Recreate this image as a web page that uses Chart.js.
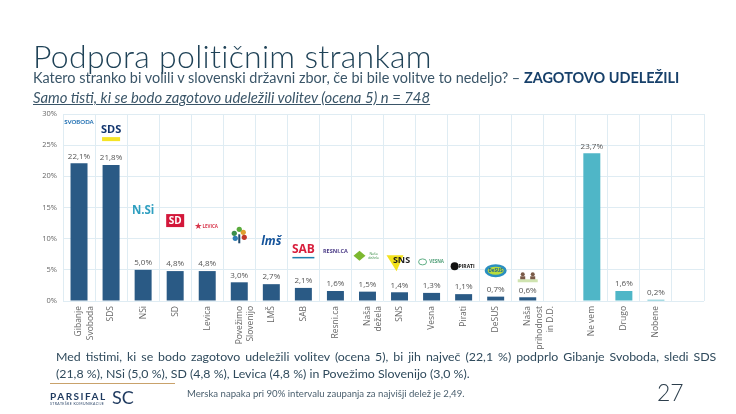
<!DOCTYPE html>
<html>
<head>
<meta charset="utf-8">
<script src="https://cdn.jsdelivr.net/npm/chart.js@4"></script>
<style>
  body { margin: 0; background: #fff; width: 736px; height: 414px; overflow: hidden; font-family: Lato, sans-serif; color: #2c4a5e; }
  #wrap { position: absolute; left: 0; top: 0; width: 736px; height: 414px; }
  .t { position: absolute; white-space: nowrap; }
  #title { left: 33px; top: 36px; font-size: 32px; font-weight: 300; color: #1f4257; letter-spacing: 0.3px; }
  #sub { left: 33px; top: 69px; font-size: 14.45px; color: #3a5568; }
  #sub b { color: #17406a; }
  #note { left: 33px; top: 88px; font-size: 14.85px; font-style: italic; text-decoration: underline; color: #3a5568; }
  #body1 { left: 56px; top: 349px; font-size: 12.35px; word-spacing: 1.8px; color: #2f4a5c; }
  #body2 { left: 56px; top: 366px; font-size: 12.35px; color: #2f4a5c; }
  #rule { position: absolute; left: 50px; top: 383px; width: 125px; height: 1px; background: #c9a26b; }
  #brand { left: 50px; top: 390px; font-size: 10px; font-weight: 700; letter-spacing: 1.5px; color: #1f3a5f; }
  #brand2 { left: 112px; top: 386px; font-size: 18px; color: #1f3a5f; }
  #brand3 { left: 50px; top: 402px; font-size: 3.5px; letter-spacing: 0.4px; color: #1f3a5f; }
  #err { left: 187px; top: 388px; font-size: 9.6px; color: #4a5f6e; }
  #page { left: 657px; top: 378px; font-size: 23px; color: #2c3e4c; font-weight: 300; }
</style>
</head>
<body>
<div id="wrap"><canvas id="myChart" width="736" height="414"></canvas></div>
<div class="t" id="title">Podpora političnim strankam</div>
<div class="t" id="sub">Katero stranko bi volili v slovenski državni zbor, če bi bile volitve to nedeljo? – <b>ZAGOTOVO UDELEŽILI</b></div>
<div class="t" id="note">Samo tisti, ki se bodo zagotovo udeležili volitev (ocena 5) n = 748</div>
<div class="t" id="body1">Med tistimi, ki se bodo zagotovo udeležili volitev (ocena 5), bi jih največ (22,1 %) podprlo Gibanje Svoboda, sledi SDS</div>
<div class="t" id="body2">(21,8 %), NSi (5,0 %), SD (4,8 %), Levica (4,8 %) in Povežimo Slovenijo (3,0 %).</div>
<div id="rule"></div>
<div class="t" id="brand">PARSIFAL</div>
<div class="t" id="brand2">SC</div>
<div class="t" id="brand3">STRATEŠKE KOMUNIKACIJE</div>
<div class="t" id="err">Merska napaka pri 90% intervalu zaupanja za najvišji delež je 2,49.</div>
<div class="t" id="page">27</div>
<script>
let categories = [["Gibanje", "Svoboda"], "SDS", "NSi", "SD", "Levica", ["Povežimo", "Slovenijo"], "LMŠ", "SAB", "Resni.ca", ["Naša", "dežela"], "SNS", "Vesna", "Pirati", "DeSUS", ["Naša", "prihodnost", "in D.D."], "", "Ne vem", "Drugo", "Nobene", " "];
let values = [22.1, 21.8, 5.0, 4.8, 4.8, 3.0, 2.7, 2.1, 1.6, 1.5, 1.4, 1.3, 1.1, 0.7, 0.6, null, 23.7, 1.6, 0.2, null];
let valueLabels = ["22,1%", "21,8%", "5,0%", "4,8%", "4,8%", "3,0%", "2,7%", "2,1%", "1,6%", "1,5%", "1,4%", "1,3%", "1,1%", "0,7%", "0,6%", "", "23,7%", "1,6%", "0,2%", ""];
let yTicks = [0, 5, 10, 15, 20, 25, 30];
let logos = ["SVOBODA", "SDS", "N.Si", "SD", "LEVICA", "", "lmš", "SAB", "RESNI.CA", "Naša dežela", "SNS", "VESNA", "PIRATI", "DeSUS", ""];

const darkBar = "#2a5a85";
const lightBar = "#4fb6c7";
const gridColor = "#dfecf3";

// how far above the bar top each logo sits
const logoLift = [41, 33, 59, 50, 44, 47, 43, 37, 40, 36, 31, 31, 28, 26, 21];

function drawLogo(ctx, i, x, y) {
  const text = logos[i];
  ctx.textAlign = "center";
  ctx.textBaseline = "middle";
  if (i == 0) {
    ctx.font = "bold 6px Lato";
    ctx.fillStyle = "#1f6fb2";
    ctx.fillText(text, x, y);
  } else if (i == 1) {
    ctx.font = "bold 11px 'Open Sans'";
    ctx.fillStyle = "#12356e";
    ctx.fillText(text, x, y - 2);
    ctx.fillStyle = "#f5e425";
    ctx.fillRect(x - 9, y + 5, 18, 4);
  } else if (i == 2) {
    ctx.font = "bold 11.5px 'Open Sans'";
    ctx.fillStyle = "#2f9fc0";
    ctx.fillText(text, x, y);
  } else if (i == 3) {
    ctx.fillStyle = "#d3173a";
    ctx.fillRect(x - 9, y - 7, 18, 13);
    ctx.font = "bold 10px 'Open Sans'";
    ctx.fillStyle = "#fff";
    ctx.fillText(text, x, y);
  } else if (i == 4) {
    ctx.font = "9px 'DejaVu Sans'";
    ctx.fillStyle = "#d8344a";
    ctx.fillText("★", x - 9, y);
    ctx.font = "bold 4.5px 'Open Sans'";
    ctx.fillText(text, x + 3, y);
  } else if (i == 5) {
    // small tree: three coloured leaves on a dark trunk
    ctx.fillStyle = "#1f4a6e";
    ctx.fillRect(x - 1, y - 1, 2, 9);
    [["#3b8f4a", -5, -2], ["#e0a030", 4, -3], ["#2f7fb5", -4, 3], ["#c0392b", 5, 2], ["#5aab3c", 0, -6]].forEach((leaf) => {
      ctx.fillStyle = leaf[0];
      ctx.beginPath();
      ctx.arc(x + leaf[1], y + leaf[2], 2.6, 0, Math.PI * 2);
      ctx.fill();
    });
  } else if (i == 6) {
    ctx.font = "italic bold 12px 'Open Sans'";
    ctx.fillStyle = "#14539a";
    ctx.fillText(text, x, y);
  } else if (i == 7) {
    ctx.font = "bold 12px 'Open Sans'";
    ctx.fillStyle = "#d81e3c";
    ctx.fillText(text, x, y - 1);
    ctx.fillStyle = "#1d7fb0";
    ctx.fillRect(x - 11, y + 6, 22, 1.5);
  } else if (i == 8) {
    ctx.font = "bold 5.5px 'Open Sans'";
    ctx.fillStyle = "#4a3a86";
    ctx.fillText(text, x, y);
  } else if (i == 9) {
    ctx.fillStyle = "#7cb82f";
    ctx.beginPath();
    ctx.moveTo(x - 14, y);
    ctx.lineTo(x - 8, y - 5);
    ctx.lineTo(x - 2, y);
    ctx.lineTo(x - 8, y + 5);
    ctx.fill();
    ctx.font = "3.5px 'Open Sans'";
    ctx.fillStyle = "#3e8f4a";
    ctx.fillText("Naša", x + 6, y - 2);
    ctx.fillText("dežela", x + 6, y + 2);
  } else if (i == 10) {
    ctx.fillStyle = "#f3e21c";
    ctx.beginPath();
    ctx.moveTo(x - 13, y - 6);
    ctx.lineTo(x + 4, y - 6);
    ctx.lineTo(x - 3, y + 10);
    ctx.fill();
    ctx.font = "bold 9px 'Open Sans'";
    ctx.fillStyle = "#1a1a1a";
    ctx.fillText(text, x + 2, y - 1);
  } else if (i == 11) {
    ctx.strokeStyle = "#5fae85";
    ctx.lineWidth = 1;
    ctx.beginPath();
    ctx.ellipse(x - 9, y, 4, 3, 0, 0, Math.PI * 2);
    ctx.stroke();
    ctx.font = "bold 4.5px 'Open Sans'";
    ctx.fillStyle = "#4f9f78";
    ctx.fillText(text, x + 5, y);
  } else if (i == 12) {
    ctx.fillStyle = "#111";
    ctx.beginPath();
    ctx.arc(x - 9, y, 4, 0, Math.PI * 2);
    ctx.fill();
    ctx.font = "bold 5px 'Open Sans'";
    ctx.fillText(text, x + 3, y);
  } else if (i == 13) {
    ctx.fillStyle = "#2a8fc0";
    ctx.beginPath();
    ctx.ellipse(x, y, 11, 6.5, 0, 0, Math.PI * 2);
    ctx.fill();
    ctx.fillStyle = "#b7dc3c";
    ctx.beginPath();
    ctx.ellipse(x, y, 8, 4, 0, 0, Math.PI * 2);
    ctx.fill();
    ctx.font = "bold 4.5px 'Open Sans'";
    ctx.fillStyle = "#1c5f8e";
    ctx.fillText(text, x, y);
  } else if (i == 14) {
    // two small portraits over a green strip
    ctx.fillStyle = "#cfe3b0";
    ctx.fillRect(x - 10, y + 3, 20, 3);
    [-5, 5].forEach((dx) => {
      ctx.fillStyle = "#7a5a48";
      ctx.beginPath();
      ctx.arc(x + dx, y - 2, 2, 0, Math.PI * 2);
      ctx.fill();
      ctx.fillRect(x + dx - 2.5, y, 5, 3);
    });
  }
}

const labelsAndLogos = {
  id: "labelsAndLogos",
  afterDatasetsDraw(chart) {
    const ctx = chart.ctx;
    const meta = chart.getDatasetMeta(0);
    ctx.save();
    values.forEach((v, i) => {
      if (v === null) return;
      const bar = meta.data[i];
      ctx.font = "8px 'Open Sans'";
      ctx.fillStyle = "#555";
      ctx.textAlign = "center";
      ctx.textBaseline = "bottom";
      ctx.fillText(valueLabels[i], bar.x, bar.y - 3);
      if (i < logos.length) {
        ctx.save();
        drawLogo(ctx, i, bar.x, bar.y - logoLift[i]);
        ctx.restore();
      }
    });
    ctx.restore();
  },
};

window.onload = () => {
  new Chart(document.getElementById("myChart").getContext("2d"), {
    type: "bar",
    data: {
      labels: categories,
      datasets: [{
        data: values,
        backgroundColor: values.map((v, i) => (i < 15 ? darkBar : lightBar)),
        categoryPercentage: 1,
        barPercentage: 0.53,
      }],
    },
    options: {
      responsive: false,
      animation: false,
      layout: { padding: { left: 0, top: 114, right: 32, bottom: 0 } },
      plugins: { legend: { display: false }, tooltip: { enabled: false } },
      scales: {
        y: {
          min: 0,
          max: 30,
          afterBuildTicks: (axis) => { axis.ticks = yTicks.map((v) => ({ value: v })); },
          afterFit: (axis) => { axis.width = 63; },
          grid: { color: gridColor, lineWidth: 1, drawTicks: false },
          border: { display: false },
          ticks: { font: { family: "Open Sans", size: 7.5 }, color: "#666", padding: 6, callback: (v) => v + "%" },
        },
        x: {
          afterFit: (axis) => { axis.height = 113; },
          grid: { color: gridColor, lineWidth: 1, drawTicks: false, offset: true },
          border: { display: false },
          ticks: { font: { family: "Open Sans", size: 8.5, lineHeight: 1.35 }, color: "#666", padding: 5, minRotation: 90, maxRotation: 90, autoSkip: false },
        },
      },
    },
    plugins: [labelsAndLogos],
  });
};
</script>
</body>
</html>
